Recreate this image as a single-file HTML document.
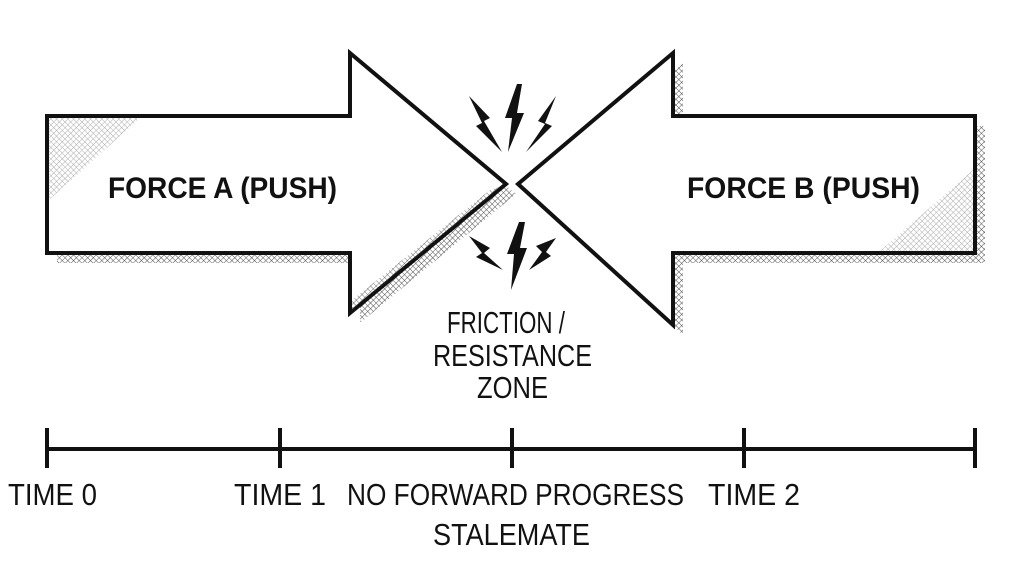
<!DOCTYPE html>
<html><head><style>
body{margin:0;background:#fff}
svg text{font-family:"Liberation Sans",sans-serif;fill:#111}
</style></head><body>
<svg width="1024" height="559" viewBox="0 0 1024 559" xmlns="http://www.w3.org/2000/svg">
<defs>
<pattern id="h" width="4" height="4" patternUnits="userSpaceOnUse" patternTransform="rotate(45)">
<path d="M0 0H4M0 0V4" stroke="#333" stroke-width="1"/>
</pattern>
</defs>
<rect width="1024" height="559" fill="#fff"/>
<polygon points="57,126 360,126 360,63 516,194 360,323 360,263 57,263" fill="url(#h)" opacity="0.85"/>
<polygon points="985,126 683,126 683,63 528,194 683,335 683,263 985,263" fill="url(#h)" opacity="0.85"/>
<polygon points="47,116 350,116 350,53 506,184 350,313 350,253 47,253" fill="#fff" stroke="#111" stroke-width="4"/>
<polygon points="975,116 673,116 673,53 518,184 673,325 673,253 975,253" fill="#fff" stroke="#111" stroke-width="4"/>
<polygon points="49,118 140,118 49,200" fill="url(#h)" opacity="0.4"/>
<polygon points="973,251 880,251 973,170" fill="url(#h)" opacity="0.4"/>
<polygon points="352,300 490,190 502,186 352,311" fill="url(#h)" opacity="0.7"/>
<text x="108" y="198" font-size="30" font-weight="bold" textLength="229" lengthAdjust="spacingAndGlyphs">FORCE A (PUSH)</text>
<text x="687" y="198" font-size="30" font-weight="bold" textLength="233" lengthAdjust="spacingAndGlyphs">FORCE B (PUSH)</text>
<g fill="#111">
<polygon points="469,96 490,118 484,121 502,152 476,126 482,123"/>
<polygon points="517,84 505,118 512,118 508,152 524,113 517,113 522,84"/>
<polygon points="556,96 538,121 545,124 526,152 552,126 545,123"/>
<polygon points="469,236 490,248 484,253 503,270 476,257 482,253"/>
<polygon points="519,222 507,254 514,254 511,290 527,248 520,248 525,222"/>
<polygon points="556,238 536,246 542,252 529,270 551,256 546,252"/>
</g>
<g font-size="31">
<text x="447" y="333" textLength="118" lengthAdjust="spacingAndGlyphs">FRICTION /</text>
<text x="433" y="366" textLength="159" lengthAdjust="spacingAndGlyphs">RESISTANCE</text>
<text x="477" y="398" textLength="71" lengthAdjust="spacingAndGlyphs">ZONE</text>
<text x="8" y="505" textLength="89" lengthAdjust="spacingAndGlyphs">TIME 0</text>
<text x="234" y="505" textLength="92" lengthAdjust="spacingAndGlyphs">TIME 1</text>
<text x="347" y="505" textLength="337" lengthAdjust="spacingAndGlyphs">NO FORWARD PROGRESS</text>
<text x="708" y="505" textLength="92" lengthAdjust="spacingAndGlyphs">TIME 2</text>
<text x="433" y="545" textLength="157" lengthAdjust="spacingAndGlyphs">STALEMATE</text>
</g>
<g stroke="#111" stroke-width="4">
<line x1="47" y1="449" x2="975" y2="449"/>
<line x1="47" y1="428" x2="47" y2="468"/>
<line x1="280" y1="428" x2="280" y2="468"/>
<line x1="512" y1="428" x2="512" y2="468"/>
<line x1="744" y1="428" x2="744" y2="468"/>
<line x1="975" y1="428" x2="975" y2="468"/>
</g>
</svg>
</body></html>
